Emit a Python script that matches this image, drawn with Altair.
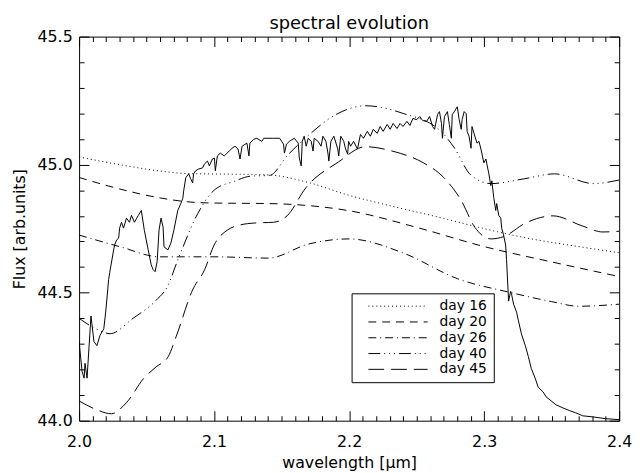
import altair as alt
import pandas as pd

# ---------------- data ----------------
obs_wl = [2.0000, 2.0022, 2.0037, 2.0044, 2.0059, 2.0088, 2.0110, 2.0132, 2.0154, 2.0183,
          2.0197, 2.0219, 2.0227, 2.0256, 2.0263, 2.0278, 2.0293, 2.0300, 2.0314, 2.0329,
          2.0351, 2.0373, 2.0388, 2.0410, 2.0439, 2.0461, 2.0483, 2.0512, 2.0534, 2.0548,
          2.0563, 2.0578, 2.0592, 2.0607, 2.0622, 2.0629, 2.0658, 2.0680, 2.0702, 2.0731,
          2.0753, 2.0768, 2.0775, 2.0790, 2.0812, 2.0826, 2.0841, 2.0848, 2.0863, 2.0885,
          2.0914, 2.0929, 2.0951, 2.0965, 2.0987, 2.1002, 2.1009, 2.1024, 2.1046, 2.1075,
          2.1112, 2.1133, 2.1155, 2.1177, 2.1192, 2.1207, 2.1243, 2.1258, 2.1265, 2.1294,
          2.1316, 2.1353, 2.1368, 2.1441, 2.1485, 2.1514, 2.1521, 2.1536, 2.1558, 2.1594,
          2.1623, 2.1631, 2.1645, 2.1653, 2.1667, 2.1682, 2.1697, 2.1719, 2.1733, 2.1741,
          2.1770, 2.1792, 2.1806, 2.1828, 2.1843, 2.1850, 2.1865, 2.1887, 2.1916, 2.1923,
          2.1938, 2.1960, 2.1974, 2.1989, 2.1996, 2.2011, 2.2033, 2.2062, 2.2084, 2.2106,
          2.2135, 2.2157, 2.2179, 2.2208, 2.2230, 2.2252, 2.2282, 2.2304, 2.2326, 2.2355,
          2.2377, 2.2399, 2.2428, 2.2450, 2.2472, 2.2501, 2.2523, 2.2545, 2.2574, 2.2596,
          2.2618, 2.2633, 2.2655, 2.2669, 2.2684, 2.2691, 2.2706, 2.2728, 2.2742, 2.2757,
          2.2764, 2.2779, 2.2801, 2.2815, 2.2830, 2.2837, 2.2852, 2.2867, 2.2874, 2.2888,
          2.2903, 2.2910, 2.2925, 2.2947, 2.2962, 2.2976, 2.2998, 2.3013, 2.3020, 2.3035,
          2.3049, 2.3057, 2.3071, 2.3086, 2.3093, 2.3108, 2.3123, 2.3130, 2.3144, 2.3159,
          2.3166, 2.3181, 2.3196, 2.3203, 2.3218, 2.3240, 2.3254, 2.3276, 2.3305, 2.3327,
          2.3349, 2.3378, 2.3400, 2.3437, 2.3459, 2.3488, 2.3532, 2.3583, 2.3634, 2.3678,
          2.3730, 2.3803, 2.3898, 2.4000]
obs_flux = [44.309, 44.193, 44.166, 44.224, 44.166, 44.409, 44.309, 44.293, 44.332, 44.359,
            44.424, 44.552, 44.579, 44.667, 44.686, 44.706, 44.713, 44.752, 44.775, 44.752,
            44.791, 44.775, 44.802, 44.775, 44.802, 44.821, 44.744, 44.667, 44.609, 44.590,
            44.582, 44.621, 44.744, 44.791, 44.756, 44.679, 44.667, 44.694, 44.744, 44.821,
            44.848, 44.868, 44.899, 44.949, 44.964, 44.945, 44.929, 44.964, 44.976, 44.983,
            44.987, 45.003, 45.014, 44.995, 45.022, 45.026, 44.976, 45.034, 45.045, 45.034,
            45.053, 45.064, 45.072, 45.061, 45.022, 45.072, 45.084, 45.034, 45.084, 45.099,
            45.103, 45.091, 45.103, 45.103, 45.103, 45.080, 45.045, 45.080, 45.091, 45.103,
            45.084, 45.026, 44.995, 45.091, 45.111, 45.072, 45.103, 45.091, 45.053, 45.103,
            45.091, 45.072, 45.111, 45.091, 45.045, 45.014, 45.091, 45.111, 45.061, 45.034,
            45.111, 45.091, 45.061, 45.041, 45.091, 45.072, 45.091, 45.061, 45.118, 45.103,
            45.130, 45.111, 45.138, 45.122, 45.149, 45.130, 45.157, 45.138, 45.161, 45.141,
            45.161, 45.149, 45.169, 45.153, 45.180, 45.176, 45.188, 45.172, 45.169, 45.188,
            45.149, 45.138, 45.196, 45.207, 45.161, 45.103, 45.188, 45.207, 45.157, 45.103,
            45.196, 45.207, 45.226, 45.176, 45.138, 45.176, 45.207, 45.199, 45.130, 45.111,
            45.064, 45.149, 45.122, 45.084, 45.091, 45.061, 45.007, 45.022, 45.003, 44.964,
            44.918, 44.937, 44.872, 44.821, 44.848, 44.802, 44.791, 44.752, 44.725, 44.686,
            44.629, 44.467, 44.505, 44.494, 44.455, 44.424, 44.390, 44.339, 44.293, 44.251,
            44.204, 44.166, 44.131, 44.112, 44.093, 44.081, 44.062, 44.050, 44.039, 44.031,
            44.019, 44.015, 44.008, 44.004]

days = ["day 16", "day 20", "day 26", "day 40", "day 45"]

wl_16 = [2.00, 2.03, 2.06, 2.08, 2.11, 2.14, 2.17, 2.20, 2.23, 2.27, 2.30, 2.33, 2.37, 2.40]
flux_16 = [45.03, 45.00, 44.975, 44.965, 44.963, 44.96, 44.93, 44.88, 44.84, 44.79, 44.75, 44.715, 44.68, 44.656]

wl_20 = [2.00, 2.03, 2.06, 2.08, 2.10, 2.14, 2.17, 2.20, 2.25, 2.30, 2.35, 2.40]
flux_20 = [44.95, 44.905, 44.87, 44.855, 44.85, 44.848, 44.84, 44.82, 44.755, 44.68, 44.62, 44.563]

wl_26 = [2.00, 2.03, 2.06, 2.10, 2.14, 2.17, 2.20, 2.24, 2.28, 2.32, 2.35, 2.37, 2.40]
flux_26 = [44.725, 44.68, 44.64, 44.64, 44.635, 44.69, 44.71, 44.655, 44.555, 44.50, 44.465, 44.447, 44.455]

wl_40 = [2.000, 2.012, 2.023, 2.040, 2.057, 2.065, 2.074, 2.088, 2.100, 2.115, 2.127, 2.141,
         2.155, 2.170, 2.190, 2.212, 2.240, 2.268, 2.278, 2.290, 2.305, 2.330, 2.352, 2.381, 2.400]
flux_40 = [44.40, 44.36, 44.34, 44.40, 44.47, 44.52, 44.64, 44.81, 44.90, 44.935, 44.955, 44.958,
           45.04, 45.115, 45.195, 45.23, 45.20, 45.13, 45.065, 44.96, 44.926, 44.945, 44.964, 44.926, 44.94]

wl_45 = [2.000, 2.012, 2.024, 2.035, 2.048, 2.057, 2.066, 2.072, 2.084, 2.093, 2.100, 2.110,
         2.119, 2.130, 2.144, 2.154, 2.168, 2.192, 2.212, 2.234, 2.254, 2.270, 2.283, 2.293,
         2.305, 2.315, 2.330, 2.351, 2.373, 2.388, 2.400]
flux_45 = [44.077, 44.045, 44.027, 44.07, 44.166, 44.21, 44.25, 44.33, 44.51, 44.59, 44.686, 44.745,
           44.764, 44.772, 44.775, 44.80, 44.91, 45.01, 45.07, 45.05, 45.01, 44.95, 44.86, 44.756,
           44.71, 44.72, 44.77, 44.80, 44.76, 44.737, 44.74]

dash_patterns = [[1, 3], [8, 6], [8, 4, 1, 4], [12, 4, 1, 4, 1, 4, 1, 4], [16, 7]]

x_major = [2.0, 2.1, 2.2, 2.3, 2.4]
x_minor = [round(2.0 + 0.01 * i, 2) for i in range(1, 40) if i % 10 != 0]
y_major = [44.0, 44.5, 45.0, 45.5]
y_minor = [round(44.0 + 0.1 * i, 1) for i in range(1, 15) if i % 5 != 0]
x_ticks = sorted(x_major + x_minor)
y_ticks = sorted(y_major + y_minor)

# ---------------- tables ----------------
obs_df = pd.DataFrame({"wl": obs_wl, "flux": obs_flux})
model_lists = [(wl_16, flux_16), (wl_20, flux_20), (wl_26, flux_26), (wl_40, flux_40), (wl_45, flux_45)]
rows = []
for d, (wl, fl) in zip(days, model_lists):
    for a, b in zip(wl, fl):
        rows.append({"day": d, "wl": a, "flux": b})
model_df = pd.DataFrame(rows)

W, H = 547, 389
FONT = "DejaVu Sans"
TICK = 10          # major tick length; axes are shifted 10 px inward so ticks point inside
X_IS_MAJOR = "abs(datum.value*10 - round(datum.value*10)) < 0.001"
Y_IS_MAJOR = "abs(datum.value*2 - round(datum.value*2)) < 0.001"
MINOR_DASH = [0, 5, 5, 100]   # minor ticks: only the 5 px next to the frame are drawn
MAJOR_DASH = [100, 0]

xscale = alt.Scale(domain=[2.0, 2.4], nice=False, zero=False)
yscale = alt.Scale(domain=[44.0, 45.5], nice=False, zero=False)


def tick_dash(test):
    return {"condition": {"test": test, "value": MAJOR_DASH}, "value": MINOR_DASH}


XAXIS = alt.Axis(orient="bottom", offset=-TICK, values=x_ticks, tickSize=TICK,
                 tickColor="black", tickWidth=1, tickDash=tick_dash(X_IS_MAJOR),
                 labelExpr=X_IS_MAJOR + " ? format(datum.value, '.1f') : ''",
                 labelOverlap=False, labelFlush=False, domain=False, grid=False,
                 labelPadding=13, titlePadding=5, title="wavelength  [μm]")
YAXIS = alt.Axis(orient="left", offset=-TICK, values=y_ticks, tickSize=TICK,
                 tickColor="black", tickWidth=1, tickDash=tick_dash(Y_IS_MAJOR),
                 labelExpr=Y_IS_MAJOR + " ? format(datum.value, '.1f') : ''",
                 labelOverlap=False, labelFlush=False, domain=False, grid=False,
                 labelPadding=7, titlePadding=10, title="Flux [arb.units]")
XAXIS_TOP = alt.Axis(orient="top", offset=-TICK, values=x_ticks, tickSize=TICK,
                     tickColor="black", tickWidth=1, tickDash=tick_dash(X_IS_MAJOR),
                     labels=False, domain=False, grid=False, title=None)
YAXIS_RIGHT = alt.Axis(orient="right", offset=-TICK, values=y_ticks, tickSize=TICK,
                       tickColor="black", tickWidth=1, tickDash=tick_dash(Y_IS_MAJOR),
                       labels=False, domain=False, grid=False, title=None)

models = alt.Chart(model_df).mark_line(
    color="black", strokeWidth=1, interpolate="monotone", clip=True
).encode(
    x=alt.X("wl:Q", scale=xscale, axis=XAXIS),
    y=alt.Y("flux:Q", scale=yscale, axis=YAXIS),
    strokeDash=alt.StrokeDash(
        "day:N",
        scale=alt.Scale(domain=days, range=dash_patterns),
        legend=alt.Legend(orient="none", legendX=276, legendY=260, title=None,
                          symbolType="M0,0H12", symbolSize=100, symbolStrokeWidth=1,
                          symbolStrokeColor="black", labelFont=FONT, labelFontSize=14,
                          labelColor="black", labelOffset=65, strokeColor="black",
                          fillColor="white", padding=6, symbolOffset=4, rowPadding=2),
    ),
)

observed = alt.Chart(obs_df).mark_line(color="black", strokeWidth=1, clip=True).encode(
    x=alt.X("wl:Q", scale=xscale, axis=XAXIS_TOP),
    y=alt.Y("flux:Q", scale=yscale, axis=YAXIS_RIGHT),
)

chart = alt.layer(
    models, observed,
).resolve_scale(x="shared", y="shared").resolve_axis(
    x="independent", y="independent"
).properties(
    width=W, height=H,
    title=alt.TitleParams("spectral evolution", font=FONT, fontSize=18,
                          fontWeight="normal", color="black", anchor="middle", offset=-4),
    autosize=alt.AutoSizeParams(type="none"),
    padding={"left": 72, "top": 26, "right": 13, "bottom": 50},
).configure_view(
    stroke="black", strokeWidth=1
).configure_axis(
    labelFont=FONT, labelFontSize=16, labelColor="black",
    titleFont=FONT, titleFontSize=16, titleFontWeight="normal", titleColor="black",
)

chart.save("out.html", embed_options={"renderer": "svg", "actions": False})
